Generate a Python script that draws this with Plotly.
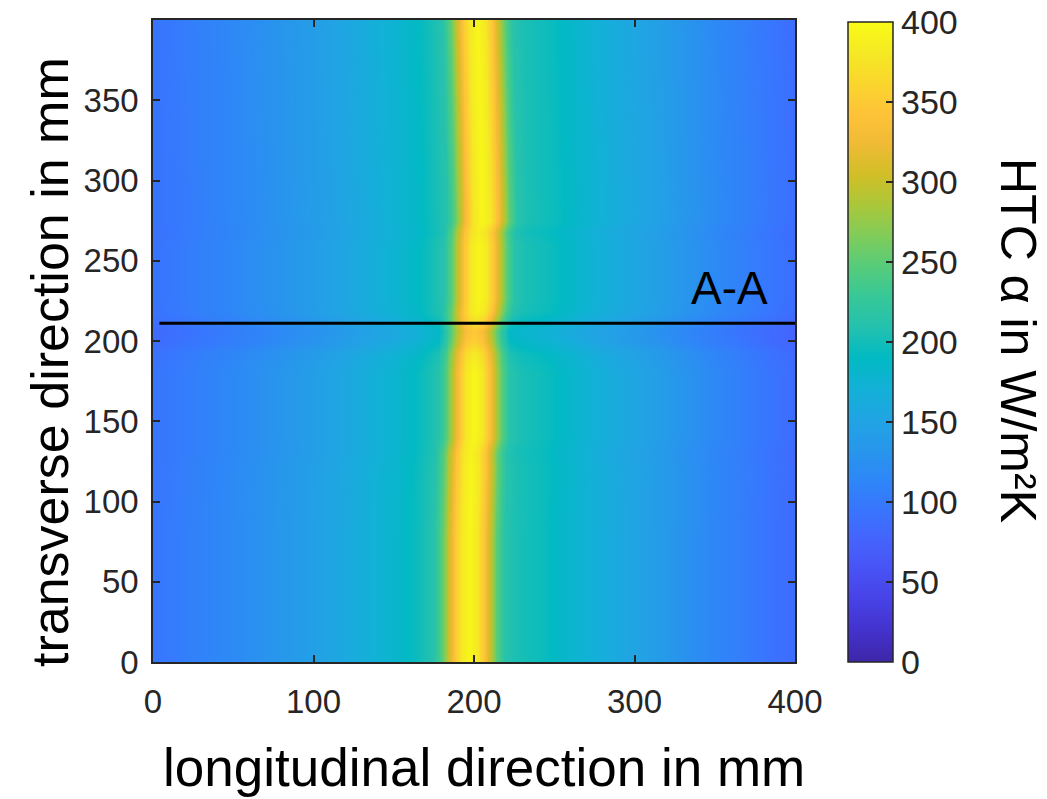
import numpy as np
import plotly.graph_objects as go

# ---- data ----
# HTC profile along longitudinal direction (for a peak centred at x = 200 mm)
profile_x = [0, 25, 50, 75, 100, 125, 150, 165, 172, 178, 183, 187, 191, 195, 200,
             205, 209, 213, 217, 222, 228, 235, 245, 258, 270, 290, 310, 330, 350, 375, 400]
profile_htc = [95, 106, 117, 130, 143, 160, 178, 193, 203, 212, 250, 300, 345, 380, 395,
               380, 345, 300, 250, 213, 205, 201, 196, 185, 174, 160, 146, 131, 116, 101, 86]

# transverse rows: peak position shift (mm) and intensity factor per row
row_y = [0, 40, 80, 120, 130, 140, 180, 192, 200, 206, 212, 218, 226, 260, 268,
         275, 320, 360, 400]
row_shift = [-3, -3, -3, -2, -2, 0, 0, 0, 0, 0, 1, 2, 3, 3, 3, 5, 4, 3, 2]
row_factor = [1.0, 1.0, 1.0, 1.0, 0.99, 1.0, 1.0, 0.97, 0.9, 0.88, 0.94, 0.99, 1.0,
              1.0, 0.98, 1.0, 1.0, 1.0, 1.0]

grid_x = list(range(0, 401, 1))

x_ticks = [0, 100, 200, 300, 400]
y_ticks = [0, 50, 100, 150, 200, 250, 300, 350]
cbar_ticks = [0, 50, 100, 150, 200, 250, 300, 350, 400]

section_x = [4, 400]
section_y = [211, 211]
section_label = "A-A"
section_label_pos = (359, 233)

# ---- build grid from the read arrays ----
gx = np.array(grid_x, dtype=float)
z = []
for s, f in zip(row_shift, row_factor):
    z.append(list(np.interp(gx - s, profile_x, profile_htc) * f))

# MATLAB parula colormap samples
parula = [
    (0.2422, 0.1504, 0.6603), (0.2647, 0.1978, 0.7952), (0.2783, 0.2559, 0.8991),
    (0.2810, 0.3228, 0.9579), (0.2699, 0.3892, 0.9906), (0.2206, 0.4603, 0.9973),
    (0.1786, 0.5289, 0.9682), (0.1540, 0.5902, 0.9218), (0.1248, 0.6459, 0.8883),
    (0.0689, 0.6948, 0.8394), (0.0067, 0.7312, 0.7660), (0.1408, 0.7584, 0.6842),
    (0.2161, 0.7843, 0.5923), (0.3406, 0.8008, 0.4789), (0.5044, 0.7993, 0.3480),
    (0.6720, 0.7793, 0.2227), (0.8203, 0.7498, 0.1535), (0.9393, 0.7288, 0.2100),
    (0.9970, 0.7659, 0.2199), (0.9786, 0.8386, 0.1766), (0.9597, 0.9135, 0.1423),
    (0.9769, 0.9839, 0.0805),
]
n = len(parula)
colorscale = [[i / (n - 1), "rgb(%d,%d,%d)" % tuple(int(round(c * 255)) for c in p)]
              for i, p in enumerate(parula)]

FONT = "Liberation Sans, Arial, Helvetica, sans-serif"
TICKC = "#262626"

fig = go.Figure()
fig.add_trace(go.Heatmap(
    x=grid_x, y=row_y, z=z, zsmooth="best",
    colorscale=colorscale, zmin=0, zmax=400,
    colorbar=dict(
        x=(848 - 153) / 642, xanchor="left", xpad=0,
        y=(662 - 342) / 642, yanchor="middle", ypad=0,
        lenmode="pixels", len=640, thickness=45,
        outlinewidth=1.5, outlinecolor=TICKC,
        tickvals=cbar_ticks, ticks="inside", ticklen=7, tickwidth=1.5,
        tickcolor=TICKC, tickprefix="\u2009",
        tickfont=dict(size=34, color=TICKC, family=FONT),
    ),
    hoverinfo="skip",
))
fig.add_trace(go.Scatter(
    x=section_x, y=section_y, mode="lines",
    line=dict(color="black", width=3), showlegend=False, hoverinfo="skip",
))

axis_common = dict(
    showline=True, linecolor=TICKC, linewidth=1.5, mirror="allticks",
    ticks="inside", ticklen=7, tickwidth=1.5, tickcolor=TICKC,
    tickfont=dict(size=33, color=TICKC, family=FONT),
    showgrid=False, zeroline=False,
)
fig.update_xaxes(range=[0, 400], tickvals=x_ticks, ticklabelstandoff=10, **axis_common)
fig.update_yaxes(range=[0, 400], tickvals=y_ticks, ticklabelstandoff=6, **axis_common)

fig.add_annotation(
    x=section_label_pos[0], y=section_label_pos[1], xref="x", yref="y",
    text=section_label, showarrow=False,
    font=dict(size=46, color="black", family=FONT),
)
fig.add_annotation(
    x=(484 - 153) / 642, y=(662 - 768) / 642, xref="paper", yref="paper",
    text="longitudinal direction in mm", showarrow=False,
    xanchor="center", yanchor="middle",
    font=dict(size=53, color="black", family=FONT),
)
fig.add_annotation(
    x=(50 - 153) / 642, y=(662 - 362) / 642, xref="paper", yref="paper",
    text="transverse direction in mm", showarrow=False, textangle=-90,
    xanchor="center", yanchor="middle",
    font=dict(size=52, color="black", family=FONT),
)
fig.add_annotation(
    x=(1018 - 153) / 642, y=(662 - 340) / 642, xref="paper", yref="paper",
    text="HTC α in W/m²K", showarrow=False, textangle=90,
    xanchor="center", yanchor="middle",
    font=dict(size=50, color="black", family=FONT),
)

fig.update_layout(
    width=1047, height=799,
    margin=dict(l=153, r=1047 - 795, t=20, b=799 - 662, autoexpand=False),
    paper_bgcolor="white", plot_bgcolor="white",
    font=dict(family=FONT),
    showlegend=False,
)

fig.write_html("out.html")
